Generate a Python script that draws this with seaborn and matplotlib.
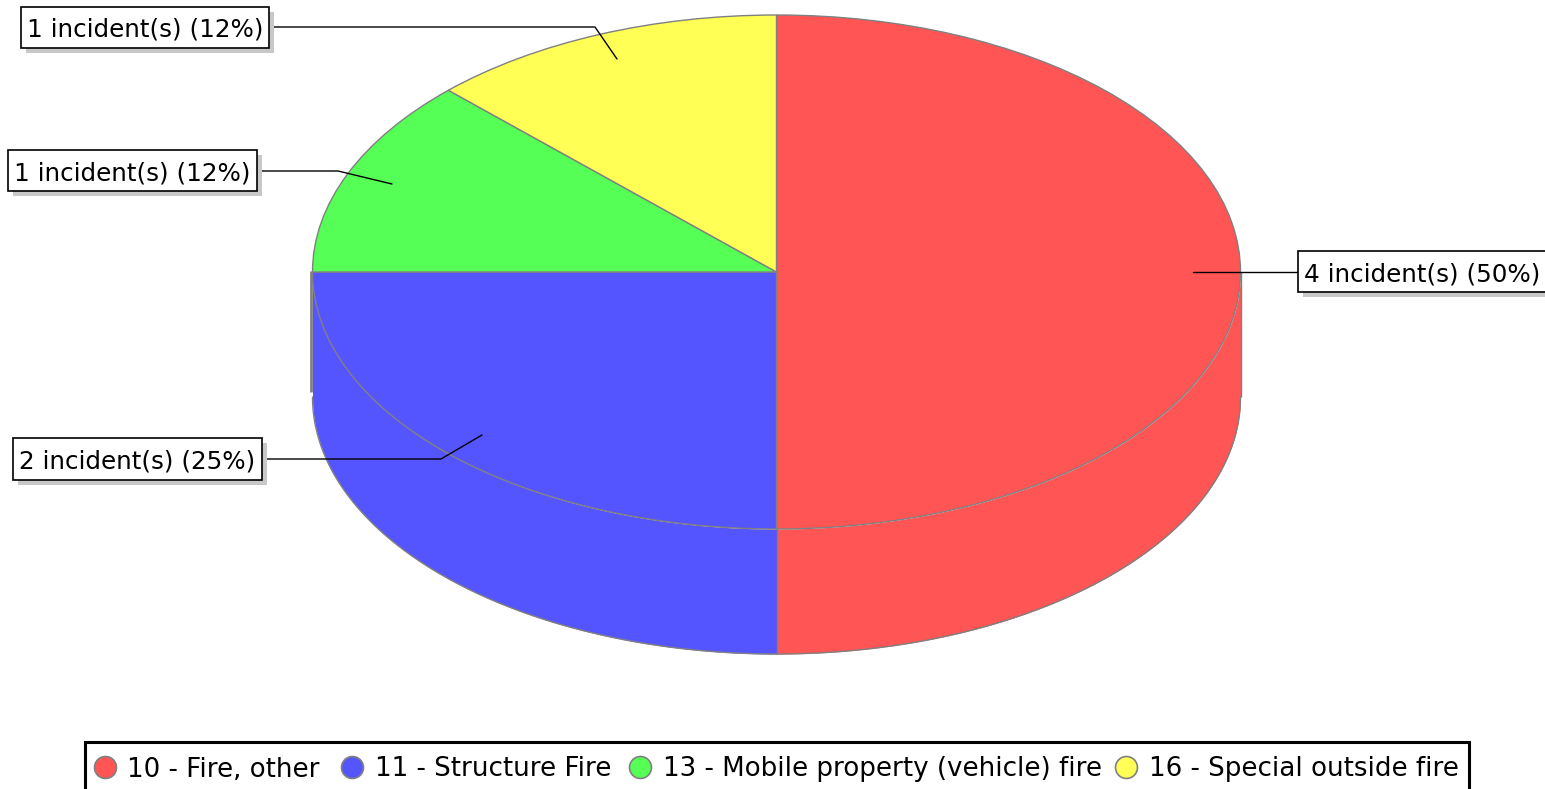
# 3D looking pie of incident types
import numpy as np
import seaborn as sns
import matplotlib.pyplot as plt
from matplotlib.patches import Rectangle

categories = ['10 - Fire, other', '11 - Structure Fire', '13 - Mobile property (vehicle) fire', '16 - Special outside fire']
incidents = [4, 2, 1, 1]
percent_labels = ['4 incident(s) (50%)', '2 incident(s) (25%)', '1 incident(s) (12%)', '1 incident(s) (12%)']
colors = sns.color_palette(['#FF5555', '#5555FF', '#55FF55', '#FFFF55'])

sns.set_theme(style='white')
plt.rcParams['font.family'] = ['DejaVu Sans']
W, H = 1545, 789
edge = '#808080'

fig = plt.figure(figsize=(W / 100, H / 100), dpi=100, facecolor='white')

# pie axes: one data unit is one radius, so the circle turns into the ellipse
cx, cy, rx, ry, depth = 776.5, 272, 464, 257, 125
ax = fig.add_axes([0, 0, 1, 1])
xlim = ((0 - cx) / rx, (W - cx) / rx)
ylim = ((cy - H) / ry, (cy - 0) / ry)
d = depth / ry

# the wall under the pie, front slices only
angles = 90 - np.cumsum([0] + incidents) / sum(incidents) * 360
for i, c in enumerate(colors):
    a0 = max(angles[i + 1], -180)
    a1 = min(angles[i], 0)
    if a0 >= a1:
        continue
    t = np.radians(np.linspace(a0, a1, 200))
    ax.fill_between(np.cos(t), np.sin(t), np.sin(t) - d, color=c, lw=0, zorder=1)
    ax.plot(np.cos(t), np.sin(t) - d, color=edge, lw=1, zorder=2)
ax.plot([0, 0], [-1, -1 - d], color=edge, lw=1, zorder=2)
ax.plot([1, 1], [0, -d], color=edge, lw=1, zorder=2, solid_capstyle='butt')
ax.plot([-1.003, -1.003], [0.005, -0.96 * d], color=edge, lw=2, zorder=0.5, solid_capstyle='butt')

wedges, _ = ax.pie(incidents, colors=colors, startangle=90, counterclock=False, radius=1,
                   frame=True, wedgeprops={'edgecolor': edge, 'linewidth': 1, 'zorder': 3})
ax.set_aspect('auto')
ax.set_xlim(xlim)
ax.set_ylim(ylim)
ax.axis('off')

# overlay in pixels for the labels and the legend
ov = fig.add_axes([0, 0, 1, 1])
ov.set_xlim(0, W)
ov.set_ylim(H, 0)
ov.axis('off')
ov.patch.set_alpha(0)

boxes = [(1298, 251, 252, 41, 1304, 281), (13, 438, 249, 42, 19, 468), (8, 150, 249, 41, 14, 180), (21, 7, 248, 41, 27, 36)]
links = [([1193, 1298], [271.5, 271.5]),
         ([482, 441, 262], [435, 459, 459]),
         ([392, 338, 258], [184, 171, 171]),
         ([617, 595, 270], [59, 27, 27])]
for label, b, l in zip(percent_labels, boxes, links):
    ov.plot(l[0], l[1], color='black', lw=1, zorder=4)
    ov.add_patch(Rectangle((b[0] + 5, b[1] + 5), b[2], b[3], fc='#C8C8C8', ec='none', zorder=5))
    ov.add_patch(Rectangle((b[0], b[1]), b[2], b[3], fc='white', ec='black', lw=1.2, zorder=6))
    ov.text(b[4], b[5], label, fontsize=17.7, color='black', va='baseline', ha='left', zorder=7)

# legend
ov.add_patch(Rectangle((85, 741.5), 1384, 60, fc='white', ec='black', lw=2.2, zorder=4))
marker_x = [105, 352, 640, 1126]
text_x = [127, 375, 663, 1149]
for name, c, mx, tx in zip(categories, colors, marker_x, text_x):
    ov.scatter([mx], [767], s=250, color=c, edgecolor=edge, linewidth=1.2, zorder=5)
    ov.text(tx, 776.5, name, fontsize=18.8, color='black', va='baseline', ha='left', zorder=5)

fig.savefig('out.png', dpi=100)
